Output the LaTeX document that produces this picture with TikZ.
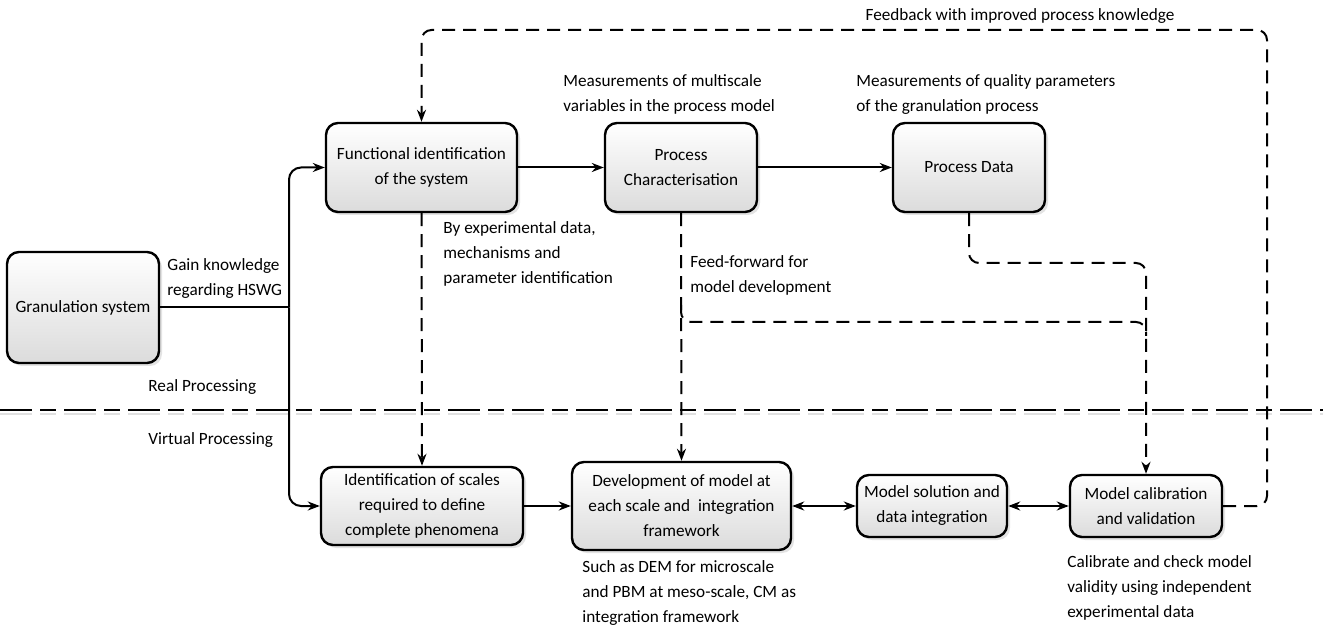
\documentclass[tikz,border=0pt]{standalone}
\usepackage{fontspec}
\setmainfont{Carlito}
\usetikzlibrary{arrows.meta,shadows}

\begin{document}
\begin{tikzpicture}[x=0.5pt,y=-0.5pt,
        font=\fontsize{8.6}{12.5}\selectfont,
        stage/.style={draw=black,line width=1.2pt,rounded corners=6pt,top color=white,bottom color=black!14,
            drop shadow={shadow xshift=1.5pt,shadow yshift=-1.5pt,fill=black!22},align=center,inner sep=2pt},
        note/.style={anchor=west,align=left,inner sep=0pt},
        flow/.style={line width=1pt,rounded corners=6pt,-{Stealth[length=6pt,width=4.5pt]}},
        both/.style={line width=1pt,{Stealth[length=6pt,width=4.5pt]}-{Stealth[length=6pt,width=4.5pt]}},
        feed/.style={line width=1pt,dash pattern=on 6.5pt off 4pt,rounded corners=5pt},
        feedto/.style={feed,-{Stealth[length=6pt,width=4.5pt]}}]
        \useasboundingbox (0,0) rectangle (1327,630);
        \node[stage,minimum width=76pt,minimum height=55.5pt] (gran) at (83,307.5) {Granulation system};
        \node[stage,minimum width=95.5pt,minimum height=44.5pt] (func) at (421.5,167.5) {Functional identification\\of the system};
        \node[stage,minimum width=76pt,minimum height=44.5pt] (char) at (681,167.5) {Process\\Characterisation};
        \node[stage,minimum width=76pt,minimum height=44.5pt] (pdata) at (969,167.5) {Process Data};
        \node[stage,minimum width=101pt,minimum height=39pt] (ident) at (422,506) {Identification of scales\\required to define\\complete phenomena};
        \node[stage,minimum width=109.5pt,minimum height=44pt] (devel) at (681.5,506) {Development of model at\\each scale and\ \ integration\\framework};
        \node[stage,minimum width=75pt,minimum height=31pt] (solve) at (932,506) {Model solution and\\data integration};
        \node[stage,minimum width=76pt,minimum height=31pt] (calib) at (1146,506) {Model calibration\\and validation};
        \node[note] (gain) at (167,278.5) {Gain knowledge\\regarding HSWG};
        \node[note] (real) at (148,387) {Real Processing};
        \node[note] (virt) at (148,440) {Virtual Processing};
        \node[note] (bydata) at (443,254) {By experimental data,\\mechanisms and\\parameter identification};
        \node[note] (multi) at (563,94.5) {Measurements of multiscale\\variables in the process model};
        \node[note] (quality) at (856,94.5) {Measurements of quality parameters\\of the granulation process};
        \node[note] (ffwd) at (690,275) {Feed-forward for\\model development};
        \node[note] (dem) at (582,593) {Such as DEM for microscale\\and PBM at meso-scale, CM as\\integration framework};
        \node[note] (check) at (1067,588) {Calibrate and check model\\validity using independent\\experimental data};
        \node[inner sep=0pt] (fblabel) at (1020,16) {Feedback with improved process knowledge};
        \coordinate (split) at (289,307.5);
        \coordinate (ffsplit) at (681,305);
        \coordinate (ffmid) at (1146,322);
        \coordinate (ffjoin) at (1146,336);
        \coordinate (pdturn) at (1146,263);
        \coordinate (fbturn) at (1267,30);
        \draw[black!12,line width=1pt,dash pattern=on 16pt off 4pt on 8pt off 4pt] (0,414) -- (1323,414);
        \draw[line width=1pt,dash pattern=on 16pt off 4pt on 8pt off 4pt] (0,410) -- (1323,410);
        \draw[line width=1pt,rounded corners=6pt] (gran.east) -- (split);
        \draw[flow] (split) |- (func.west);
        \draw[flow] (split) |- (ident.west);
        \draw[flow] (func.east) -- (char.west);
        \draw[flow] (char.east) -- (pdata.west);
        \draw[flow] (ident.east) -- (devel.west);
        \draw[both] (devel.east) -- (solve.west);
        \draw[both] (solve.east) -- (calib.west);
        \draw[feedto] (func.south) -- (ident.north);
        \draw[feedto] (char.south) -- (devel.north);
        \draw[feed] (ffsplit) |- (ffmid) -- (ffjoin);
        \draw[feedto] (pdata.south) |- (pdturn) -- (calib.north);
        \draw[feedto] (calib.east) -| (fbturn) -| (func.north);
\end{tikzpicture}
\end{document}
